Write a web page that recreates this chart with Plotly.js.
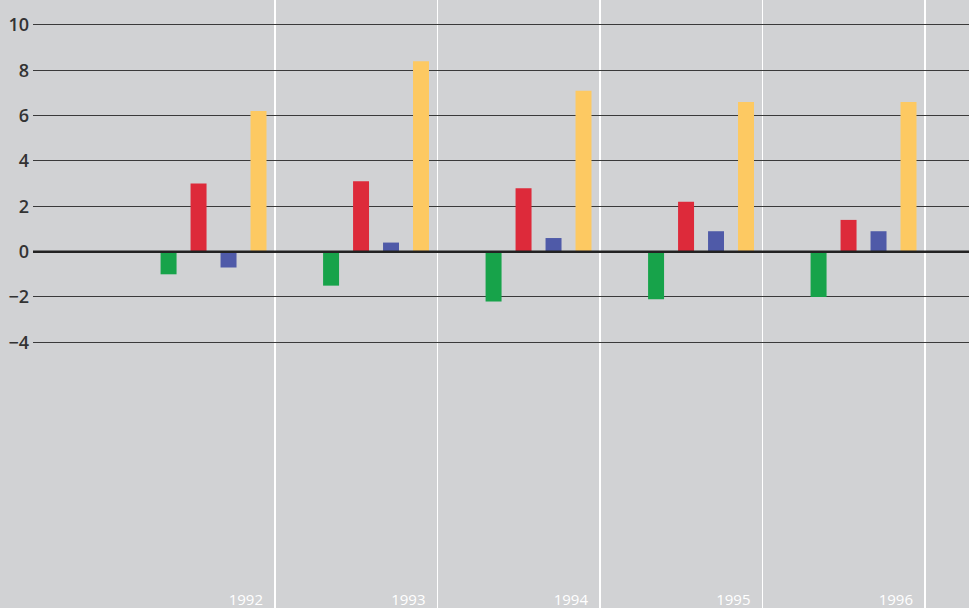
<!DOCTYPE html>
<html>
<head>
<meta charset="utf-8">
<script src="https://cdn.plot.ly/plotly-3.0.1.min.js"></script>
<style>html,body{margin:0;padding:0;background:#d1d2d4;}#chart{width:969px;height:608px;}</style>
</head>
<body>
<div id="chart"></div>
<script>
const years = [1992, 1993, 1994, 1995, 1996];
const yearLabels = ["1992", "1993", "1994", "1995", "1996"];
const seriesGreen = [-1.0, -1.5, -2.2, -2.1, -2.0];
const seriesRed = [3.0, 3.1, 2.8, 2.2, 1.4];
const seriesBlue = [-0.7, 0.4, 0.6, 0.9, 0.9];
const seriesYellow = [6.2, 8.4, 7.1, 6.6, 6.6];
const yTicks = [-4, -2, 0, 2, 4, 6, 8, 10];

const boundaryShift = 0.378;
const colors = ["#17a34a", "#dd2a3a", "#4f5aa8", "#fdc962"];
const allSeries = [seriesGreen, seriesRed, seriesBlue, seriesYellow];
const names = ["A", "B", "C", "D"];

const traces = allSeries.map((s, i) => ({
  type: "bar",
  x: years,
  y: s,
  name: names[i],
  marker: {color: colors[i], line: {width: 0}},
  hoverinfo: "y"
}));

const layout = {
  width: 969,
  height: 608,
  margin: {l: 33, r: 0, t: 0, b: 0, pad: 0},
  paper_bgcolor: "#d1d2d4",
  plot_bgcolor: "#d1d2d4",
  showlegend: false,
  barmode: "group",
  bargap: 0.262,
  bargroupgap: 0.467,
  xaxis: {
    range: [1990.889, 1996.649],
    tickvals: years.map(y => y + boundaryShift),
    ticktext: yearLabels,
    showgrid: true,
    gridcolor: "#ffffff",
    gridwidth: 1.5,
    zeroline: false,
    showline: false,
    ticks: "",
    ticklabelposition: "inside left",
    ticklabelshift: -12,
    ticklabelstandoff: -6,
    tickfont: {family: "Open Sans, sans-serif", size: 15, color: "#ffffff"}
  },
  yaxis: {
    range: [-15.72, 11.1],
    tickvals: yTicks,
    showgrid: true,
    gridcolor: "#3a3a3a",
    gridwidth: 1,
    zeroline: false,
    showline: false,
    ticks: "",
    ticklabelstandoff: 3,
    tickfont: {family: "Open Sans, sans-serif", size: 18, color: "#333333", weight: 600}
  },
  shapes: [{
    type: "line", xref: "paper", x0: 0, x1: 1, yref: "y", y0: 0, y1: 0,
    line: {color: "#222222", width: 2.5}, layer: "above"
  }]
};

Plotly.newPlot("chart", traces, layout, {displayModeBar: false, staticPlot: true});
</script>
</body>
</html>
